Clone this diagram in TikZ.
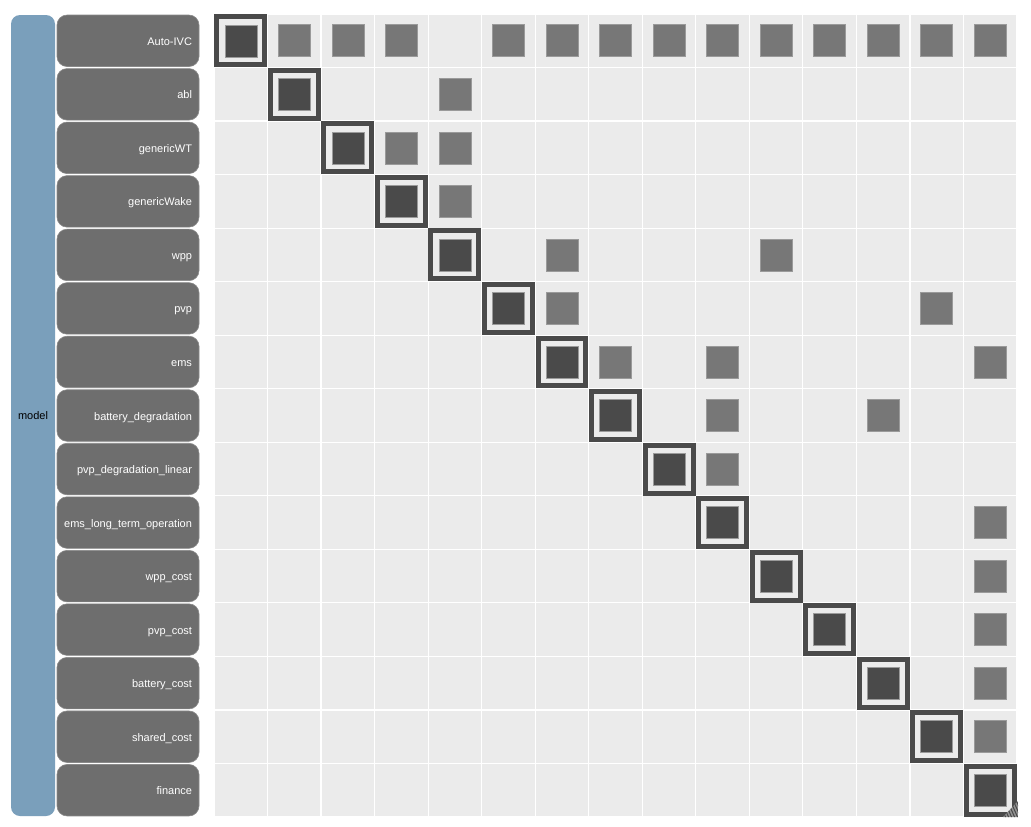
\documentclass[tikz,border=0pt]{standalone}
\usepackage{fontspec}
\setmainfont{Liberation Sans}
\definecolor{cellbg}{HTML}{EBEBEB}
\definecolor{labelbg}{HTML}{6E6E6E}
\definecolor{labelrim}{HTML}{8A8A8A}
\definecolor{barblue}{HTML}{7A9FBB}
\definecolor{diagdark}{HTML}{4A4A4A}
\definecolor{offgrey}{HTML}{777777}
\definecolor{offrim}{HTML}{9A9A9A}
\tikzset{
  barbox/.style={fill=barblue, draw=none, rounded corners=9pt, minimum width=44pt, minimum height=801pt, inner sep=0pt, font=\fontsize{11}{13}\selectfont, text=black},
  labelbox/.style={fill=labelbg, draw=labelrim, line width=0.6pt, rounded corners=10pt, text width=128pt, inner xsep=7pt, inner ysep=0pt, text height=9pt, text depth=0pt, minimum height=51.5pt, align=right, text=white, font=\fontsize{11}{13}\selectfont},
  diagframe/.style={draw=diagdark, line width=5pt, fill=cellbg},
  diagcore/.style={fill=diagdark, draw=offrim, line width=0.5pt, minimum size=32pt, inner sep=0pt},
  offcell/.style={fill=offgrey, draw=offrim, line width=0.6pt, minimum size=32pt, inner sep=0pt},
  gridline/.style={draw=white, line width=1.2pt},
}
\begin{document}
\begin{tikzpicture}[x=1pt,y=-1pt]
\useasboundingbox (0,0) rectangle (1031,827);
\fill[white] (0,0) rectangle (1031,827);
% blue side bar
\node[barbox] (model) at (33,415.5) {model};
% grid background
\fill[cellbg] (214,14) rectangle (1017,817);
\foreach \k in {0,...,15}{
  \pgfmathsetmacro{\p}{214+53.533*\k}
  \pgfmathsetmacro{\q}{14+53.533*\k}
  \draw[gridline] (\p,14) -- (\p,817);
  \draw[gridline] (214,\q) -- (1017,\q);
}
% labels
\foreach \name [count=\i from 0] in {Auto-IVC,abl,genericWT,genericWake,wpp,pvp,ems,battery\_degradation,pvp\_degradation\_linear,ems\_long\_term\_operation,wpp\_cost,pvp\_cost,battery\_cost,shared\_cost,finance}{
  \pgfmathsetmacro{\cy}{14+53.533*\i+26.77}
  \node[labelbox] (l\i) at (128,\cy) {\name};
}
% diagonal cells
\foreach \i in {0,...,14}{
  \pgfmathsetmacro{\xa}{214+53.533*\i+2.8}
  \pgfmathsetmacro{\ya}{14+53.533*\i+2.8}
  \pgfmathsetmacro{\xb}{214+53.533*(\i+1)-2.8}
  \pgfmathsetmacro{\yb}{14+53.533*(\i+1)-2.8}
  \pgfmathsetmacro{\cx}{214+53.533*\i+26.77}
  \pgfmathsetmacro{\cy}{14+53.533*\i+26.77}
  \draw[diagframe] (\xa,\ya) rectangle (\xb,\yb);
  \node[diagcore] (d\i) at (\cx,\cy) {};
}
% off-diagonal entries
\foreach \r/\c in {0/1,0/2,0/3,0/5,0/6,0/7,0/8,0/9,0/10,0/11,0/12,0/13,0/14,
  1/4,2/3,2/4,3/4,4/6,4/10,5/6,5/13,6/7,6/9,6/14,7/9,7/12,8/9,
  9/14,10/14,11/14,12/14,13/14}{
  \pgfmathsetmacro{\cx}{214+53.533*\c+26.77}
  \pgfmathsetmacro{\cy}{14+53.533*\r+26.77}
  \node[offcell] (o\r-\c) at (\cx,\cy) {};
}
% resize handle
\begin{scope}
\clip (1003,817) -- (1018,817) -- (1018,801) -- cycle;
\fill[diagdark!60] (1003,817) -- (1018,817) -- (1018,801) -- cycle;
\foreach \k in {0,3,...,30}{
  \draw[diagdark, line width=1pt] (1000+\k,818) -- (1000+\k-8,800);
}
\end{scope}
\end{tikzpicture}
\end{document}
